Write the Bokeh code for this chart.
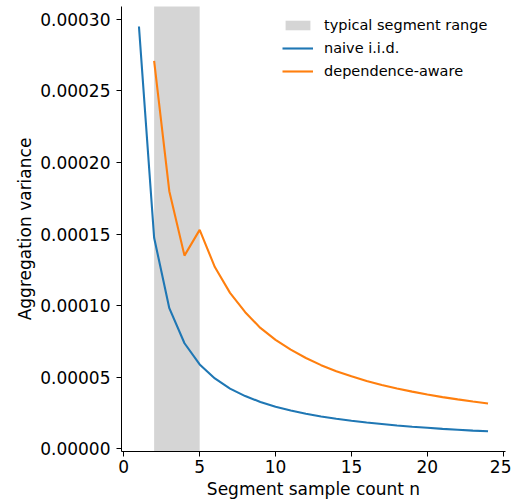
from bokeh.plotting import figure
from bokeh.models import Range1d, FixedTicker, PrintfTickFormatter
from bokeh.embed import file_html
from bokeh.resources import INLINE

# ---- data ----
n_naive = list(range(1, 25))
var_naive = [0.000295, 0.0001475, 0.0000983, 0.0000738, 0.000059, 0.0000492,
             0.0000421, 0.0000369, 0.0000328, 0.0000295, 0.0000268, 0.0000246,
             0.0000227, 0.0000211, 0.0000197, 0.0000184, 0.0000174, 0.0000164,
             0.0000155, 0.0000148, 0.000014, 0.0000134, 0.0000128, 0.0000123]
n_dep = list(range(2, 25))
var_dep = [0.000271, 0.000180, 0.000135, 0.000153, 0.000127, 0.000109,
           0.0000955, 0.0000845, 0.0000762, 0.0000693, 0.0000635, 0.0000585,
           0.0000543, 0.0000507, 0.0000475, 0.0000447, 0.0000422, 0.0000400,
           0.0000380, 0.0000362, 0.0000346, 0.0000331, 0.0000317]
segment_range = [2, 5]
x_ticks = [0, 5, 10, 15, 20, 25]
y_ticks = [0.0, 0.00005, 0.0001, 0.00015, 0.0002, 0.00025, 0.0003]

FONT = "DejaVu Sans"

p = figure(width=511, height=504, output_backend="svg", toolbar_location=None,
           x_range=Range1d(-0.15, 25.15), y_range=Range1d(-0.0000018, 0.000309),
           min_border_left=121, min_border_right=6, min_border_top=6,
           min_border_bottom=53)
p.outline_line_color = None
p.xgrid.grid_line_color = None
p.ygrid.grid_line_color = None
p.background_fill_color = "white"
p.border_fill_color = "white"

p.quad(left=[segment_range[0]], right=[segment_range[1]], bottom=[-1], top=[1],
       fill_color="#d5d5d5", line_color=None, legend_label="typical segment range")
p.line(n_naive, var_naive, line_color="#1f77b4", line_width=2.1, legend_label="naive i.i.d.")
p.line(n_dep, var_dep, line_color="#ff7f0e", line_width=2.1, legend_label="dependence-aware")

for ax in (p.xaxis[0], p.yaxis[0]):
    ax.major_label_text_font = FONT
    ax.major_label_text_font_size = "17px"
    ax.major_label_text_color = "black"
    ax.axis_label_text_font = FONT
    ax.axis_label_text_font_size = "17px"
    ax.axis_label_text_font_style = "normal"
    ax.axis_label_text_color = "black"
    ax.axis_line_color = "black"
    ax.axis_line_width = 1
    ax.major_tick_line_color = "black"
    ax.major_tick_out = 5
    ax.major_tick_in = 0
    ax.minor_tick_line_color = None

p.xaxis.ticker = FixedTicker(ticks=x_ticks)
p.yaxis.ticker = FixedTicker(ticks=y_ticks)
p.yaxis.formatter = PrintfTickFormatter(format="%.5f")
p.xaxis.axis_label = "Segment sample count n"
p.yaxis.axis_label = "Aggregation variance"
p.xaxis.major_label_standoff = 3
p.yaxis.major_label_standoff = 6
p.xaxis.axis_label_standoff = 3
p.yaxis.axis_label_standoff = 2

lg = p.legend[0]
lg.location = "top_right"
lg.border_line_color = None
lg.background_fill_alpha = 0
lg.label_text_font = FONT
lg.label_text_font_size = "14.5px"
lg.label_text_color = "black"
lg.glyph_width = 31
lg.glyph_height = 12
lg.label_height = 20
lg.label_width = 172
lg.spacing = 3
lg.label_standoff = 11
lg.margin = 9
lg.padding = 10

open("out.html", "w").write(file_html(p, INLINE))
